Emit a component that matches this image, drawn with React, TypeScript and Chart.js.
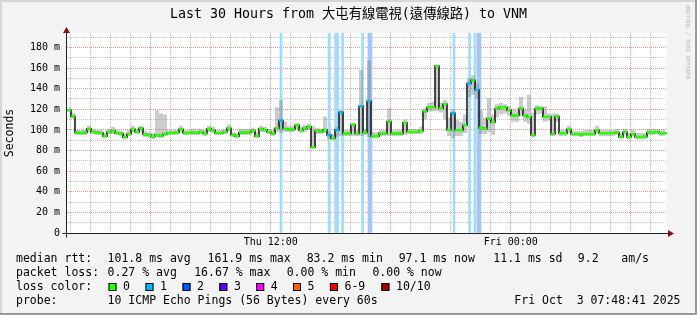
import React, { useEffect, useRef } from 'react';
import { Chart, registerables } from 'chart.js';

Chart.register(...registerables);

// ---------- data ----------
const titleText = 'Last 30 Hours from 大屯有線電視(遠傳線路) to VNM';

// one sample every 0.2 h (12 min), starting at 0.1 h after Thu 01:48:41
const SAMPLE_START = 0.1;
const SAMPLE_STEP = 0.2;

const medianRtt = [
  119, 113, 97.5, 97, 97.5, 101, 98, 97.5, 97, 94,
  98, 99, 97, 96.5, 93, 96, 100.7, 98, 101.5, 95.6,
  95, 93.6, 95, 94.5, 96, 97, 97, 97.5, 100.7, 97,
  97, 97.5, 97, 98, 96.5, 101, 99.6, 97, 97, 98,
  101.6, 95, 94, 97.5, 97.5, 97.5, 99, 94, 101, 100,
  98, 96.5, 101.6, 109, 101, 100.4, 100.4, 104.5, 99.6, 101.5,
  103, 83.2, 99, 98.5, 100, 95, 92, 100, 117, 96.5,
  96.5, 105, 96.5, 123, 97.5, 128, 94, 94, 96.5, 96.5,
  108, 96.5, 96.5, 96.5, 107, 98, 98, 98, 99, 118,
  122, 122, 161.9, 121, 125, 100, 116, 99.7, 99.7, 104.5,
  145, 148, 139, 102, 101.3, 111, 107.5, 120.7, 122, 122,
  119, 114, 114, 120.7, 114, 112.6, 95, 120.7, 120.7, 112.6,
  112.6, 96, 113, 96.8, 96.8, 100.7, 96, 96, 95.5, 96,
  96, 96, 99.7, 96.8, 96.8, 96.8, 96.8, 97.5, 93.2, 98,
  93.2, 96, 93.2, 93.2, 93.5, 97.5, 97.5, 98, 96.8, 96.8,
];

const smokeHigh = [
  122, 117, 100, 100, 100, 104, 101, 100, 100, 97,
  101, 103, 100, 99, 96, 100, 104, 101, 104, 99,
  98, 97, 119, 116, 115, 100, 100, 100, 104, 100,
  100, 101, 100, 101, 100, 104, 103, 100, 100, 101,
  105, 98, 97, 101, 101, 101, 102, 98, 104, 103,
  101, 100, 122, 129, 108, 104, 104, 107, 103, 105,
  106, 104, 102, 101, 113, 99, 96, 103, 119, 100,
  100, 107, 100, 158, 101, 167, 98, 98, 100, 100,
  121, 100, 100, 100, 110, 101, 101, 101, 103, 121,
  126, 127, 163, 126, 129, 112, 120, 110, 108, 115,
  150, 153, 146, 119, 112, 131, 115, 125, 126, 125,
  123, 120, 119, 132, 120, 134, 117, 124, 123, 123,
  116, 116, 116, 100, 100, 104, 99, 99, 99, 100,
  100, 100, 104, 100, 100, 100, 100, 101, 97, 101,
  97, 100, 97, 97, 97, 101, 101, 101, 100, 100,
];

const smokeLow = [
  117, 111, 95, 95, 95, 98, 96, 95, 95, 92,
  96, 96, 95, 94, 91, 94, 98, 96, 98, 93,
  93, 91, 93, 92, 94, 95, 95, 95, 98, 95,
  95, 95, 95, 96, 94, 98, 97, 95, 95, 96,
  99, 93, 92, 95, 95, 95, 97, 92, 98, 98,
  96, 94, 98, 97, 98, 98, 98, 101, 97, 98,
  100, 82, 96, 96, 97, 91, 90, 93, 94, 94,
  94, 94, 94, 94, 95, 93, 92, 92, 94, 94,
  94, 94, 94, 94, 95, 96, 96, 96, 96, 110,
  118, 118, 118, 117, 110, 94, 92, 94, 94, 97,
  132, 134, 130, 96, 96, 98, 95, 112, 115, 116,
  114, 108, 108, 114, 108, 106, 93, 115, 116, 108,
  109, 94, 108, 94, 94, 97, 94, 94, 93, 94,
  94, 94, 97, 94, 94, 94, 94, 95, 91, 95,
  91, 94, 91, 91, 91, 95, 95, 96, 94, 94,
];

// samples whose median was taken with 1/10 loss
const lossSampleIndex = [53, 65, 67, 68, 73, 75, 96, 100, 102];

// loss background bars (hours since start) and their loss level
const lossBarHours = [10.7, 13.1, 13.43, 13.53, 13.78, 14.78, 15.15, 19.35, 20.13, 20.4, 20.6];
const lossBarLevel = [1, 1, 1, 1, 1, 1, 2, 1, 1, 1, 2];

const Y_MAX = 194;
const yTicks = [0, 10, 20, 30, 40, 50, 60, 70, 80, 90, 100, 110, 120, 130, 140, 150, 160, 170, 180, 190];

const xTickHours = [
  0.19, 1.19, 2.19, 3.19, 4.19, 5.19, 6.19, 7.19, 8.19, 9.19,
  10.19, 11.19, 12.19, 13.19, 14.19, 15.19, 16.19, 17.19, 18.19, 19.19,
  20.19, 21.19, 22.19, 23.19, 24.19, 25.19, 26.19, 27.19, 28.19, 29.19,
];
const xMajorHours = [4.19, 10.19, 16.19, 22.19, 28.19];
const xLabelHours = [10.19, 22.19];
const xLabelTexts = ['Thu 12:00', 'Fri 00:00'];

const lossLegendLabels = ['0', '1', '2', '3', '4', '5', '6-9', '10/10'];
const lossLegendColors = ['#26ff00', '#00b8ff', '#0059ff', '#5e00ff', '#ff00ff', '#ff5e00', '#ff0000', '#a10000'];

const statsRtt = ['101.8 ms avg', '161.9 ms max', '83.2 ms min', '97.1 ms now', '11.1 ms sd', '9.2', 'am/s'];
const statsLoss = ['0.27 % avg', '16.67 % max', '0.00 % min', '0.00 % now'];
const probeText = '10 ICMP Echo Pings (56 Bytes) every 60s';
const dateText = 'Fri Oct  3 07:48:41 2025';

// ---------- styles ----------
const MONO = '"DejaVu Sans Mono", "Noto Sans CJK TC", monospace';
const W = 697;
const H = 315;
const GRID_MINOR = 'rgba(150,150,150,0.55)';
const GRID_MAJOR = 'rgba(225,110,110,0.75)';
const lossBarColors = ['', '#a3dbf9', '#a3c6f6'];

const near = (a: number, list: number[]) => list.some((v) => Math.abs(v - a) < 1e-6);

const smokePlugin = {
  id: 'smokeFrame',
  beforeDraw(chart: any) {
    const { ctx, chartArea } = chart;
    ctx.save();
    ctx.fillStyle = '#f3f3f3';
    ctx.fillRect(0, 0, W, H);
    ctx.fillStyle = '#ffffff';
    ctx.fillRect(chartArea.left, chartArea.top, chartArea.right - chartArea.left, chartArea.bottom - chartArea.top);
    // 3D frame
    ctx.fillStyle = '#d6d6d6';
    ctx.fillRect(0, 0, W, 2);
    ctx.fillRect(0, 0, 2, H);
    ctx.fillStyle = '#9a9a9a';
    ctx.fillRect(0, H - 2, W, 2);
    ctx.fillRect(W - 2, 0, 2, H);
    ctx.restore();
  },
  afterDatasetsDraw(chart: any) {
    const { ctx } = chart;
    const xs = chart.scales.x;
    const ys = chart.scales.y;
    const y0 = Math.round(ys.getPixelForValue(0)) + 0.5;
    const xl = Math.round(xs.getPixelForValue(0)) - 0.5;
    const xr = xs.getPixelForValue(30);
    const yt = ys.getPixelForValue(Y_MAX);
    ctx.save();
    ctx.strokeStyle = '#222';
    ctx.lineWidth = 1;
    ctx.beginPath();
    ctx.moveTo(xl - 4, y0);
    ctx.lineTo(xr + 2, y0);
    ctx.moveTo(xl, y0 + 4);
    ctx.lineTo(xl, yt - 1);
    ctx.stroke();
    ctx.fillStyle = '#8c0f0f';
    ctx.beginPath();
    ctx.moveTo(xr + 1, y0 - 3.5);
    ctx.lineTo(xr + 7, y0);
    ctx.lineTo(xr + 1, y0 + 3.5);
    ctx.closePath();
    ctx.fill();
    ctx.beginPath();
    ctx.moveTo(xl - 3.5, yt - 0);
    ctx.lineTo(xl, yt - 6);
    ctx.lineTo(xl + 3.5, yt - 0);
    ctx.closePath();
    ctx.fill();
    ctx.restore();
  },
  afterDraw(chart: any) {
    const { ctx } = chart;
    ctx.save();
    ctx.fillStyle = '#000';
    ctx.textBaseline = 'middle';
    // title
    ctx.font = `13.3px ${MONO}`;
    ctx.textAlign = 'center';
    ctx.fillText(titleText, 348.5, 15);
    // y axis title
    ctx.save();
    ctx.font = `11.5px ${MONO}`;
    ctx.translate(10.5, 133);
    ctx.rotate(-Math.PI / 2);
    ctx.fillText('Seconds', 0, 0);
    ctx.restore();
    // watermark
    ctx.save();
    ctx.fillStyle = '#b4b4b4';
    ctx.font = `5.6px ${MONO}`;
    ctx.translate(687, 5);
    ctx.rotate(Math.PI / 2);
    ctx.textAlign = 'left';
    ctx.fillText('RRDTOOL / TOBI OETIKER', 0, 0);
    ctx.restore();
    // legend
    ctx.font = `11.5px ${MONO}`;
    ctx.textAlign = 'left';
    const r1 = 259, r2 = 273, r3 = 287, r4 = 301;
    ctx.fillText('median rtt:', 16, r1);
    const rttX = [107.6, 207.6, 306.7, 398.7, 493.3, 577.8, 621.3];
    statsRtt.forEach((t, i) => ctx.fillText(t, rttX[i], r1));
    ctx.fillText('packet loss:', 16, r2);
    const lossX = [107.6, 194.2, 286.7, 372.4];
    statsLoss.forEach((t, i) => ctx.fillText(t, lossX[i], r2));
    ctx.fillText('loss color:', 16, r3);
    const boxX = [108.5, 145.5, 182.5, 219.3, 256.2, 293, 329.9, 381.4];
    lossLegendLabels.forEach((t, i) => {
      ctx.fillStyle = lossLegendColors[i];
      ctx.fillRect(boxX[i], r3 - 4, 8, 8);
      ctx.strokeStyle = '#000';
      ctx.lineWidth = 1;
      ctx.strokeRect(boxX[i] + 0.5, r3 - 3.5, 7, 7);
      ctx.fillStyle = '#000';
      ctx.fillText(t, boxX[i] + 14.6, r3);
    });
    ctx.fillText('probe:', 16, r4);
    ctx.fillText(probeText, 107.6, r4);
    ctx.textAlign = 'right';
    ctx.fillText(dateText, 680.5, r4);
    ctx.restore();
  },
};

export default function App() {
  const ref = useRef<HTMLCanvasElement | null>(null);

  useEffect(() => {
    document.body.style.margin = '0';
    const canvas = ref.current;
    if (!canvas) return;
    const xsOf = (i: number) => SAMPLE_START + i * SAMPLE_STEP;
    const pts = (arr: number[]) => arr.map((v, i) => ({ x: xsOf(i), y: v }));
    const bars = (level: number) =>
      lossBarHours
        .map((h, i) => ({ x: h, y: Y_MAX, l: lossBarLevel[i] }))
        .filter((b) => b.l === level)
        .map((b) => ({ x: b.x, y: b.y }));

    const chart = new Chart(canvas, {
      type: 'line',
      data: {
        datasets: [
          {
            type: 'scatter',
            label: 'median',
            data: pts(medianRtt),
            showLine: false,
            pointStyle: 'line',
            pointRadius: 2,
            pointHoverRadius: 0,
            pointBorderWidth: 2.5,
            pointBorderColor: medianRtt.map((_, i) =>
              lossSampleIndex.includes(i) ? lossLegendColors[1] : lossLegendColors[0]
            ),
            order: 0,
          } as any,
          {
            type: 'line',
            label: 'median line',
            data: pts(medianRtt),
            borderColor: '#1e1e1e',
            borderWidth: 1.6,
            stepped: 'middle',
            pointRadius: 0,
            pointHoverRadius: 0,
            fill: false,
            order: 1,
          },
          {
            type: 'line',
            label: 'smoke high',
            data: pts(smokeHigh),
            borderWidth: 0,
            borderColor: 'rgba(0,0,0,0)',
            backgroundColor: 'rgba(120,120,120,0.38)',
            stepped: 'middle',
            pointRadius: 0,
            pointHoverRadius: 0,
            fill: '+1',
            order: 2,
          },
          {
            type: 'line',
            label: 'smoke low',
            data: pts(smokeLow),
            borderWidth: 0,
            borderColor: 'rgba(0,0,0,0)',
            stepped: 'middle',
            pointRadius: 0,
            pointHoverRadius: 0,
            fill: false,
            order: 3,
          },
          {
            type: 'bar',
            label: 'loss 1',
            data: bars(1),
            backgroundColor: lossBarColors[1],
            barThickness: 2,
            grouped: false,
            order: 4,
          } as any,
          {
            type: 'bar',
            label: 'loss 2',
            data: bars(2),
            backgroundColor: lossBarColors[2],
            barThickness: 4,
            grouped: false,
            order: 5,
          } as any,
        ],
      },
      options: {
        responsive: false,
        animation: false,
        events: [],
        layout: { autoPadding: false, padding: { left: 0, right: 30, top: 33, bottom: 0 } },
        plugins: {
          legend: { display: false },
          tooltip: { enabled: false },
          title: { display: false },
        },
        scales: {
          x: {
            type: 'linear',
            min: 0,
            max: 30,
            offset: false,
            afterBuildTicks: (s: any) => {
              s.ticks = xTickHours.map((v) => ({ value: v }));
            },
            afterFit: (s: any) => {
              s.height = 82;
            },
            grid: {
              offset: false,
              drawTicks: false,
              lineWidth: 1,
              color: (c: any) => (near(c.tick?.value, xMajorHours) ? GRID_MAJOR : GRID_MINOR),
            },
            border: { display: false, dash: [1, 1] },
            ticks: {
              autoSkip: false,
              maxRotation: 0,
              padding: 3,
              color: '#000',
              font: { family: MONO, size: 10 },
              callback: (v: any) => {
                const k = xLabelHours.findIndex((h) => Math.abs(h - Number(v)) < 1e-6);
                return k >= 0 ? xLabelTexts[k] : '';
              },
            },
          },
          y: {
            type: 'linear',
            min: 0,
            max: Y_MAX,
            afterBuildTicks: (s: any) => {
              s.ticks = yTicks.map((v) => ({ value: v }));
            },
            afterFit: (s: any) => {
              s.width = 67;
            },
            grid: {
              drawTicks: false,
              lineWidth: 1,
              color: (c: any) => {
                const v = c.tick?.value;
                if (v === 0) return 'rgba(0,0,0,0)';
                return v % 20 === 0 ? GRID_MAJOR : GRID_MINOR;
              },
            },
            border: { display: false, dash: [1, 1] },
            ticks: {
              autoSkip: false,
              padding: 7,
              color: '#000',
              font: { family: MONO, size: 10 },
              callback: (v: any) => {
                const n = Number(v);
                if (n % 20 !== 0) return '';
                return n === 0 ? '0' : `${n} m`;
              },
            },
          },
        },
      },
      plugins: [smokePlugin],
    });
    return () => chart.destroy();
  }, []);

  return (
    <div style={{ width: W, height: H, position: 'relative' }}>
      <canvas ref={ref} width={W} height={H} style={{ width: W, height: H, display: 'block' }} />
    </div>
  );
}
